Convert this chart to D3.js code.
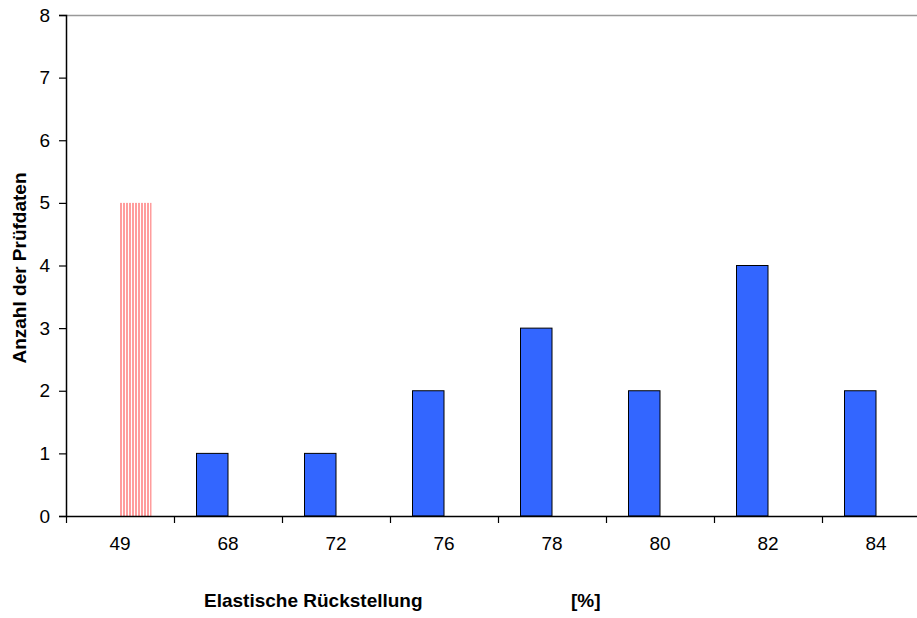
<!DOCTYPE html>
<html><head><meta charset="utf-8">
<script src="https://cdn.jsdelivr.net/npm/d3@7"></script>
<style>body{margin:0;background:#fff}svg{display:block}</style>
</head><body>
<script>
const categories = ["49","68","72","76","78","80","82","84"];
const seriesBlue = [0,1,1,2,3,2,4,2];
const seriesRed  = [5,0,0,0,0,0,0,0];
const yTicks = [0,1,2,3,4,5,6,7,8];
const xTitle = "Elastische Rückstellung";
const xUnit = "[%]";
const yTitle = "Anzahl der Prüfdaten";

(function(){
const W = 917, H = 618;
const mLeft = 66, mRight = 930, mTop = 15, mBottom = 516;
const FONT = "Liberation Sans, Arial, sans-serif";
const svg = d3.select("body").append("svg").attr("width", W).attr("height", H);

const defs = svg.append("defs");
const pat = defs.append("pattern").attr("id","stripes").attr("patternUnits","userSpaceOnUse")
  .attr("width",3).attr("height",10).attr("x",120);
pat.append("rect").attr("width",3).attr("height",10).attr("fill","#fff");
pat.append("rect").attr("width",2).attr("height",10).attr("fill","#ff9d9d");

const x = d3.scaleBand().domain(categories).range([mLeft, mRight]).paddingInner(0).paddingOuter(0);
const y = d3.scaleLinear().domain([0,8]).range([mBottom, mTop]);
const barW = 31.5;

// top border
svg.append("line").attr("x1",mLeft).attr("x2",W).attr("y1",y(8)+0.5).attr("y2",y(8)+0.5)
  .attr("stroke","#999").attr("stroke-width",1.5);

// blue bars (series 1, left of center)
svg.selectAll("rect.blue").data(categories.map((c,i)=>({c,v:seriesBlue[i]})).filter(d=>d.v>0))
  .enter().append("rect").attr("class","blue")
  .attr("x", d=>x(d.c)+x.bandwidth()/2-barW)
  .attr("y", d=>y(d.v))
  .attr("width", barW).attr("height", d=>y(0)-y(d.v))
  .attr("fill","#3366ff").attr("stroke","#000").attr("stroke-width",1);

// red bars (series 2, right of center)
svg.selectAll("rect.red").data(categories.map((c,i)=>({c,v:seriesRed[i]})).filter(d=>d.v>0))
  .enter().append("rect").attr("class","red")
  .attr("x", d=>x(d.c)+x.bandwidth()/2)
  .attr("y", d=>y(d.v))
  .attr("width", barW).attr("height", d=>y(0)-y(d.v))
  .attr("fill","url(#stripes)");

// y axis
const yAxis = svg.append("g").attr("transform",`translate(${mLeft},0)`)
  .call(d3.axisLeft(y).tickValues(yTicks).tickSize(7).tickPadding(9).tickFormat(d3.format("d")));
yAxis.select(".domain").attr("stroke","#000").attr("stroke-width",1.5);
yAxis.selectAll(".tick line").attr("stroke","#000").attr("stroke-width",1.2);
yAxis.selectAll("text").attr("font-family",FONT).attr("font-size",19).attr("fill","#000");

// x axis
const xAxis = svg.append("g").attr("transform",`translate(0,${mBottom})`)
  .call(d3.axisBottom(x).tickSize(0).tickPadding(21));
xAxis.select(".domain").attr("stroke","#000").attr("stroke-width",1.5);
xAxis.selectAll("text").attr("font-family",FONT).attr("font-size",19).attr("fill","#000");
// category boundary ticks
svg.append("g").selectAll("line").data(categories).enter().append("line")
  .attr("x1", d=>x(d)+0.5).attr("x2", d=>x(d)+0.5)
  .attr("y1", mBottom).attr("y2", mBottom+7)
  .attr("stroke","#000").attr("stroke-width",1.2);

// titles
svg.append("text").attr("x",204).attr("y",607)
  .attr("font-family",FONT).attr("font-size",19).attr("font-weight","bold")
  .text(xTitle);
svg.append("text").attr("x",571).attr("y",607)
  .attr("font-family",FONT).attr("font-size",19).attr("font-weight","bold")
  .text(xUnit);
svg.append("text").attr("transform","translate(26,268) rotate(-90)").attr("text-anchor","middle")
  .attr("font-family",FONT).attr("font-size",19).attr("font-weight","bold")
  .text(yTitle);
})();
</script>
</body></html>
